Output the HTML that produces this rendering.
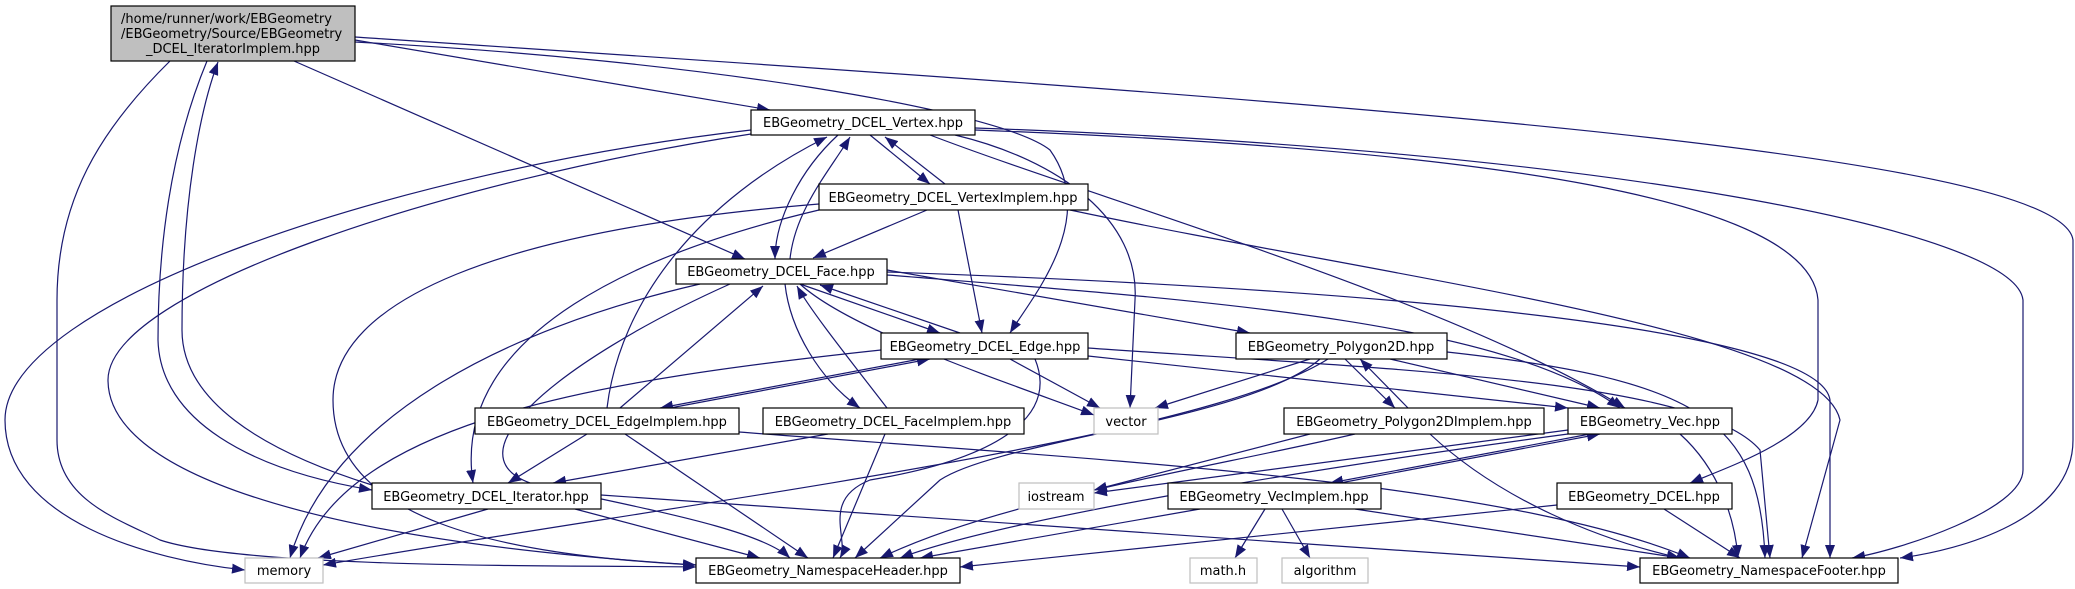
<!DOCTYPE html>
<html><head><meta charset="utf-8"><style>
html,body{margin:0;padding:0;background:#fff;}
svg{display:block;}
text{font-family:"DejaVu Sans","Liberation Sans",sans-serif;font-size:13px;fill:#000;}
</style></head><body>
<svg width="2075" height="589" viewBox="0 0 2075 589" xmlns="http://www.w3.org/2000/svg">
<defs>
<marker id="a" markerUnits="userSpaceOnUse" markerWidth="14" markerHeight="10" refX="13" refY="5" orient="auto">
<path d="M0,0 L13,5 L0,10 z" fill="#191970"/>
</marker>
</defs>
<g fill="none" stroke="#191970" stroke-width="1.2" marker-end="url(#a)">
<!-- Root -->
<path d="M355,40 L770,110"/>
<path d="M294,61 L745,259"/>
<path d="M355,42 C700,60 1000,110 1050,150 C1100,220 1030,300 1010,333"/>
<path d="M355,37 C1300,100 2060,150 2073,240 L2073,440 C2073,520 1960,550 1900,558"/>
<path d="M207,61 C170,150 158,250 158,340 C160,420 250,470 372,490"/>
<path d="M372,485 C260,450 182,400 182,330 C182,200 200,110 218,62"/>
<path d="M170,61 C100,130 57,200 57,300 L57,440 C57,500 120,520 160,540 C250,570 600,565 696,567"/>
<!-- Vertex -->
<path d="M870,135 L930,184"/>
<path d="M945,184 L885,137"/>
<path d="M838,135 C800,170 775,220 775,259"/>
<path d="M790,259 C795,210 830,170 850,137"/>
<path d="M607,408 C620,300 700,200 827,137"/>
<path d="M751,130 C400,170 5,300 5,420 C5,520 150,560 245,570"/>
<path d="M751,134 C450,180 108,290 108,380 C108,470 300,540 696,565"/>
<path d="M955,135 C1060,160 1140,220 1135,300 L1130,408"/>
<path d="M930,135 C1100,200 1450,300 1625,408"/>
<path d="M975,130 C1500,150 1810,200 1818,300 L1818,400 C1810,440 1720,470 1690,483"/>
<path d="M975,128 C1600,150 2015,230 2023,300 L2023,470 C2023,510 1900,550 1852,558"/>
<!-- VertexImplem -->
<path d="M927,210 L813,258"/>
<path d="M958,210 L982,333"/>
<path d="M819,210 C650,250 450,330 473,483"/>
<path d="M819,204 C500,230 333,300 333,400 C333,520 500,555 696,565"/>
<path d="M1070,210 C1400,280 1820,330 1840,420 L1802,558"/>
<!-- Face -->
<path d="M800,284 L940,333"/>
<path d="M960,333 L820,285"/>
<path d="M887,270 L1250,333"/>
<path d="M785,284 C790,330 820,380 860,408"/>
<path d="M887,408 C850,360 810,310 797,286"/>
<path d="M620,408 L763,286"/>
<path d="M700,284 C500,330 330,420 290,558"/>
<path d="M730,284 C560,360 420,470 560,490 C650,510 760,530 790,558"/>
<path d="M800,284 C850,330 1000,380 1094,415"/>
<path d="M887,275 C1200,300 1500,320 1620,408"/>
<path d="M887,272 C1400,290 1820,330 1830,400 L1830,558"/>
<!-- Edge -->
<path d="M920,359 L660,408"/>
<path d="M670,408 L930,359"/>
<path d="M881,350 C600,380 350,420 300,558"/>
<path d="M1010,359 L1100,408"/>
<path d="M1088,356 L1568,408"/>
<path d="M1035,359 C1060,420 990,460 870,480 C820,500 850,540 840,558"/>
<path d="M1088,348 C1400,370 1700,380 1760,450 L1770,558"/>
<!-- EdgeImplem -->
<path d="M587,434 L508,483"/>
<path d="M625,434 L808,558"/>
<path d="M739,432 C1100,460 1500,480 1690,558"/>
<!-- FaceImplem -->
<path d="M828,434 L553,483"/>
<path d="M885,434 L833,558"/>
<!-- Polygon2D -->
<path d="M1310,359 L1155,408"/>
<path d="M1345,359 L1395,408"/>
<path d="M1408,408 L1360,359"/>
<path d="M1390,359 L1600,408"/>
<path d="M1447,352 C1700,380 1760,420 1765,558"/>
<path d="M1320,359 C1250,420 1000,440 940,480 L855,558"/>
<path d="M1328,359 C1200,440 700,500 323,565"/>
<!-- Polygon2DImplem -->
<path d="M1310,434 L1094,490"/>
<path d="M1355,434 C1200,470 1000,500 880,558"/>
<path d="M1430,434 C1500,500 1600,540 1680,558"/>
<!-- Vec -->
<path d="M1568,430 L1094,493"/>
<path d="M1590,434 L1330,483"/>
<path d="M1340,483 L1600,434"/>
<path d="M1568,434 C1300,470 1000,520 900,558"/>
<path d="M1680,434 C1720,470 1735,520 1738,558"/>
<!-- VecImplem -->
<path d="M1265,509 L1235,558"/>
<path d="M1282,509 L1310,558"/>
<path d="M1200,509 L920,558"/>
<path d="M1355,509 L1680,558"/>
<!-- DCEL -->
<path d="M1557,505 L960,567"/>
<path d="M1664,509 L1740,558"/>
<!-- Iterator -->
<path d="M488,509 L318,558"/>
<path d="M575,509 L760,558"/>
<path d="M601,495 L1640,567"/>
</g>
<g stroke-width="1.2">
<rect x="111" y="6" width="244" height="55" fill="#bfbfbf" stroke="#000"/>
<text x="121" y="23">/home/runner/work/EBGeometry</text>
<text x="121" y="38">/EBGeometry/Source/EBGeometry</text>
<text x="233" y="53" text-anchor="middle">_DCEL_IteratorImplem.hpp</text>
</g>
<g fill="#fff" stroke="#000" stroke-width="1.2">
<rect x="751" y="110" width="224" height="25"/>
<rect x="819" y="184" width="269" height="26"/>
<rect x="676" y="259" width="211" height="25"/>
<rect x="881" y="333" width="207" height="26"/>
<rect x="1236" y="333" width="211" height="26"/>
<rect x="475" y="408" width="264" height="26"/>
<rect x="763" y="408" width="261" height="26"/>
<rect x="1284" y="408" width="260" height="26"/>
<rect x="1568" y="408" width="164" height="26"/>
<rect x="372" y="483" width="229" height="26"/>
<rect x="1168" y="483" width="213" height="26"/>
<rect x="1557" y="483" width="175" height="26"/>
<rect x="696" y="558" width="264" height="25"/>
<rect x="1640" y="558" width="258" height="25"/>
</g>
<g fill="#fff" stroke="#bfbfbf" stroke-width="1.2">
<rect x="1094" y="408" width="64" height="26"/>
<rect x="1019" y="483" width="75" height="26"/>
<rect x="245" y="558" width="78" height="25"/>
<rect x="1190" y="558" width="67" height="25"/>
<rect x="1282" y="558" width="86" height="25"/>
</g>
<g text-anchor="middle">
<text x="863" y="127">EBGeometry_DCEL_Vertex.hpp</text>
<text x="953" y="202">EBGeometry_DCEL_VertexImplem.hpp</text>
<text x="781" y="276">EBGeometry_DCEL_Face.hpp</text>
<text x="985" y="351">EBGeometry_DCEL_Edge.hpp</text>
<text x="1341" y="351">EBGeometry_Polygon2D.hpp</text>
<text x="1126" y="426">vector</text>
<text x="607" y="426">EBGeometry_DCEL_EdgeImplem.hpp</text>
<text x="893" y="426">EBGeometry_DCEL_FaceImplem.hpp</text>
<text x="1414" y="426">EBGeometry_Polygon2DImplem.hpp</text>
<text x="1650" y="426">EBGeometry_Vec.hpp</text>
<text x="486" y="501">EBGeometry_DCEL_Iterator.hpp</text>
<text x="1056" y="501">iostream</text>
<text x="1274" y="501">EBGeometry_VecImplem.hpp</text>
<text x="1644" y="501">EBGeometry_DCEL.hpp</text>
<text x="284" y="575">memory</text>
<text x="828" y="575">EBGeometry_NamespaceHeader.hpp</text>
<text x="1223" y="575">math.h</text>
<text x="1325" y="575">algorithm</text>
<text x="1769" y="575">EBGeometry_NamespaceFooter.hpp</text>
</g>
</svg>
</body></html>
